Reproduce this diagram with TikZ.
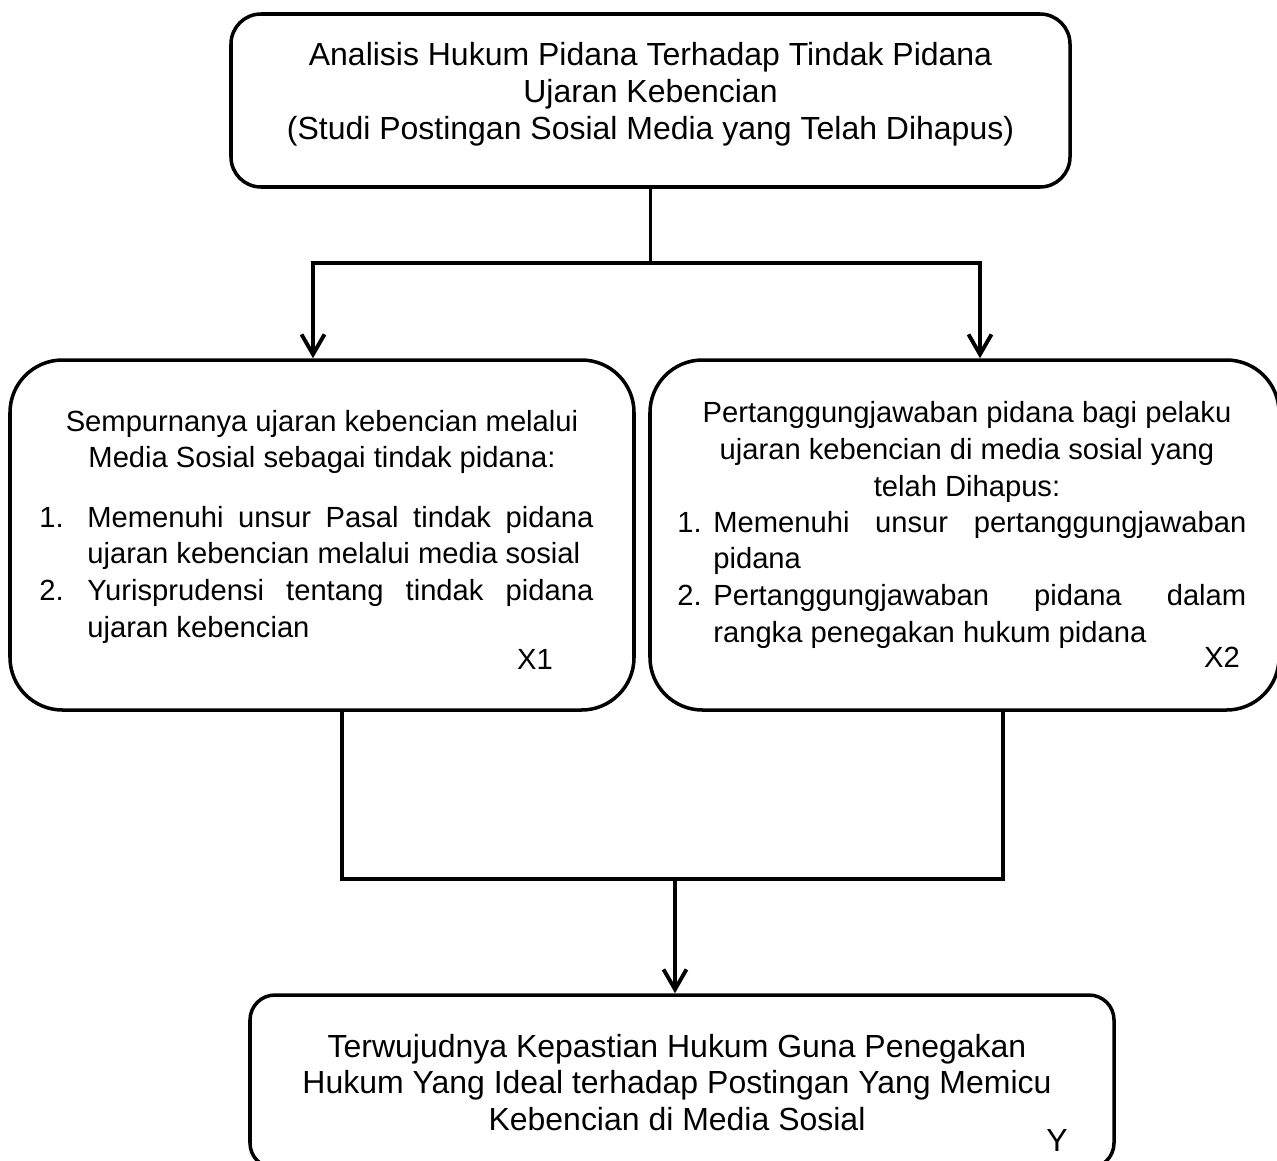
\documentclass[tikz,border=0pt]{standalone}
\usepackage{fontspec}
\setmainfont{Liberation Sans}
\usetikzlibrary{positioning,arrows.meta}

\newcommand{\butir}[2]{\par\noindent\hangindent=#1\hangafter=1\makebox[#1][l]{#2}\ignorespaces}

\begin{document}
\begin{tikzpicture}[
  kotak/.style={draw, line width=2pt, inner sep=0pt},
  garis/.style={line width=2.2pt},
  panah/.style={line width=2.2pt, -{Straight Barb[length=0.4cm,width=0.46cm]}},
  besar/.style={inner sep=0pt, align=center, font=\fontsize{18.2}{21}\selectfont},
  sedang/.style={inner sep=0pt, align=center, font=\fontsize{16.6}{20.8}\selectfont},
  daftar/.style={inner sep=0pt, anchor=north west, align=justify, font=\fontsize{16.6}{20.8}\selectfont}
]
\path[fill=white, use as bounding box] (0,0) rectangle (25.54,-23.2);

% kotak-kotak
\node[kotak, rounded corners=0.6cm, minimum width=16.78cm, minimum height=3.46cm] (judul) at (13.01,-2.01) {};
\node[kotak, rounded corners=1.05cm, minimum width=12.48cm, minimum height=7cm] (xsatu) at (6.44,-10.7) {};
\node[kotak, rounded corners=1.05cm, minimum width=12.58cm, minimum height=7cm] (xdua) at (19.29,-10.7) {};
\node[kotak, rounded corners=0.5cm, minimum width=17.28cm, minimum height=3.46cm] (hasil) at (13.64,-21.63) {};

% teks
\node[besar, below=0.59cm of judul.north] (judulteks) {Analisis Hukum Pidana Terhadap Tindak Pidana\\Ujaran Kebencian\\(Studi Postingan Sosial Media yang Telah Dihapus)};

\node[sedang, below=1.03cm of xsatu.north] (xsatujudul) {Sempurnanya ujaran kebencian melalui\\Media Sosial sebagai tindak pidana:};
\node[daftar, text width=11.08cm] (xsatudaftar) at (0.78,-9.81) {%
\butir{0.96cm}{1.}Memenuhi unsur Pasal tindak pidana\linebreak ujaran kebencian melalui media sosial
\butir{0.96cm}{2.}Yurisprudensi tentang tindak pidana\linebreak ujaran kebencian\par};
\node[sedang] (labelxsatu) at (10.7,-13.18) {X1};

\node[sedang, anchor=north] (xduajudul) at (19.34,-8.03) {Pertanggungjawaban pidana bagi pelaku\\ujaran kebencian di media sosial yang\\telah Dihapus:};
\node[daftar, text width=11.38cm] (xduadaftar) at (13.54,-9.91) {%
\butir{0.72cm}{1.}Memenuhi unsur pertanggungjawaban\linebreak pidana
\butir{0.72cm}{2.}Pertanggungjawaban pidana dalam\linebreak rangka penegakan hukum pidana\par};
\node[sedang] (labelxdua) at (24.44,-13.14) {X2};

\node[besar, anchor=north] (hasilteks) at (13.54,-20.67) {Terwujudnya Kepastian Hukum Guna Penegakan\\Hukum Yang Ideal terhadap Postingan Yang Memicu\\Kebencian di Media Sosial};
\node[besar] (labely) at (21.14,-22.8) {Y};

% penghubung atas
\coordinate (garisatas) at (6.26,-5.26);
\coordinate (garisatas2) at (19.6,-5.26);
\draw[garis] (judul.south) -- (judul.south |- garisatas);
\draw[garis, line cap=rect] (garisatas) -- (garisatas2);
\draw[panah] (garisatas) -- (garisatas |- xsatu.north);
\draw[panah] (garisatas2) -- (garisatas2 |- xdua.north);

% penghubung bawah
\coordinate (garisbawah) at (6.84,-17.58);
\coordinate (garisbawah2) at (20.06,-17.58);
\coordinate (turun) at (13.5,-17.58);
\draw[garis] (garisbawah |- xsatu.south) -- (garisbawah) -- (garisbawah2) -- (garisbawah2 |- xdua.south);
\draw[panah] (turun) -- (turun |- hasil.north);
\end{tikzpicture}
\end{document}
